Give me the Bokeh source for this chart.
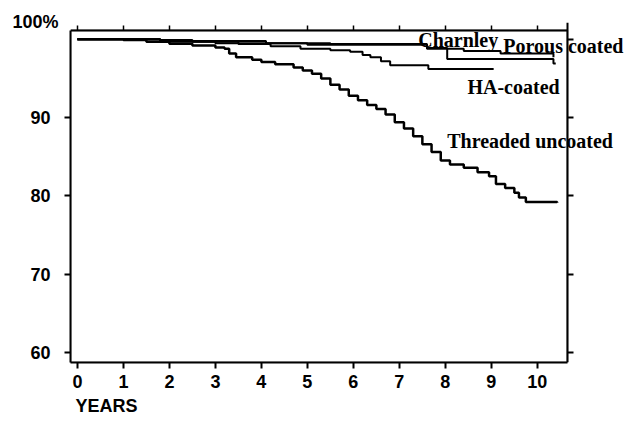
from bokeh.plotting import figure
from bokeh.models import Range1d, LinearAxis, FixedTicker, Label, Title, BoxAnnotation
from bokeh.embed import file_html
from bokeh.resources import INLINE

# ---- data (years, survival %) ----
threaded_t = [0, 1.0, 1.5, 2.0, 2.5, 3.0, 3.2, 3.3, 3.45, 3.8, 4.0, 4.3, 4.7, 4.9, 5.1, 5.3,
              5.5, 5.7, 5.9, 6.1, 6.3, 6.5, 6.7, 6.9, 7.1, 7.3, 7.5, 7.7, 7.9, 8.1, 8.4,
              8.7, 8.95, 9.1, 9.3, 9.5, 9.6, 9.75, 10.43]
threaded_s = [100, 99.9, 99.7, 99.45, 99.2, 98.95, 98.8, 98.2, 97.7, 97.4, 97.1, 96.8, 96.4,
              96.0, 95.6, 95.0, 94.2, 93.6, 92.8, 92.2, 91.6, 91.1, 90.4, 89.4, 88.6, 87.6,
              86.6, 85.6, 84.5, 84.0, 83.6, 83.0, 82.5, 81.5, 81.0, 80.4, 79.8, 79.2, 79.1]

ha_t = [0, 1.8, 2.5, 3.5, 4.2, 4.85, 5.5, 5.93, 6.2, 6.37, 6.6, 6.8, 7.63, 9.05]
ha_s = [100, 99.9, 99.7, 99.4, 99.1, 98.8, 98.6, 98.4, 98.0, 97.7, 97.2, 96.7, 96.2, 96.2]

charnley_t = [0, 1.8, 4.1, 5.5, 7.6, 8.4, 9.2, 10.35]
charnley_s = [100, 99.8, 99.5, 99.4, 98.8, 98.5, 98.2, 97.7]

porous_t = [0, 1.8, 3.0, 5.0, 7.6, 8.04, 10.35, 10.4]
porous_s = [100, 99.7, 99.5, 99.3, 98.9, 97.5, 96.9, 96.9]

x_ticks = [0, 1, 2, 3, 4, 5, 6, 7, 8, 9, 10]
y_ticks = [60, 70, 80, 90]
y_all_ticks = [60, 70, 80, 90, 100]
y_top_label = "100%"
x_title = "YEARS"

series_labels = ["Charnley", "Porous coated", "HA-coated", "Threaded uncoated"]
label_pos_x = [7.41, 9.26, 8.48, 8.04]
label_pos_y = [99.9, 99.2, 93.85, 87.05]

X0, X1 = -0.15, 10.65      # visible box in data units
Y0, Y1 = 58.7, 101.15

# the frame reaches a little above and well to the right of the visible box,
# so that the outer ticks and the long curve labels are not clipped
p = figure(frame_width=557, frame_height=340, output_backend="svg", toolbar_location=None,
           x_range=Range1d(X0, 11.96), y_range=Range1d(Y0, Y1 + 1.0), title_location=None,
           min_border_left=70, min_border_top=22, min_border_right=2, min_border_bottom=58)
p.outline_line_color = None
p.grid.visible = False

for t, s, w in [(threaded_t, threaded_s, 2.5), (ha_t, ha_s, 2),
                (charnley_t, charnley_s, 2), (porous_t, porous_s, 2)]:
    p.step(t, s, mode="after", line_color="black", line_width=w)

font = "Liberation Sans"
p.xaxis.ticker = FixedTicker(ticks=x_ticks)
p.xaxis.bounds = (X0, X1)
p.yaxis.ticker = FixedTicker(ticks=y_ticks)
p.yaxis.bounds = (Y0, Y1)
for ax in [p.xaxis[0], p.yaxis[0]]:
    ax.axis_line_color = "black"
    ax.axis_line_width = 2
    ax.major_tick_line_color = "black"
    ax.major_tick_line_width = 2
    ax.major_tick_out = 6
    ax.major_tick_in = 0
    ax.minor_tick_line_color = None
    ax.major_label_text_font = font
    ax.major_label_text_font_size = "18px"
    ax.major_label_text_font_style = "bold"
    ax.major_label_text_color = "black"
p.xaxis.major_label_standoff = 6
p.yaxis.major_label_standoff = 14

# box edges (top and right) of the visible plot area
p.add_layout(BoxAnnotation(left=X0, right=X1, bottom=Y0, top=Y1, fill_color=None,
                           line_color="black", line_width=2))

# right border ticks, pointing outward
right = LinearAxis(ticker=FixedTicker(ticks=y_all_ticks), fixed_location=X1,
                   axis_line_color="black", axis_line_width=2,
                   major_tick_line_color="black", major_tick_line_width=2,
                   major_tick_out=0, major_tick_in=6,
                   major_label_text_color=None, major_label_standoff=0,
                   minor_tick_line_color=None)
p.add_layout(right, "left")
# top border ticks, pointing outward
top = LinearAxis(ticker=FixedTicker(ticks=x_ticks), fixed_location=Y1, bounds=(X0, X1),
                 axis_line_color="black", axis_line_width=2,
                 major_tick_line_color="black", major_tick_line_width=1.5,
                 major_tick_out=5, major_tick_in=0, major_label_text_color=None,
                 minor_tick_line_color=None)
p.add_layout(top, "above")

for txt, lx, ly in zip(series_labels, label_pos_x, label_pos_y):
    p.add_layout(Label(x=lx, y=ly, text=txt, text_font="Liberation Serif",
                       text_font_size="20px", text_font_style="bold",
                       text_baseline="middle", text_color="black"))

p.add_layout(Title(text=y_top_label, align="left", offset=-58, standoff=-18,
                   text_font=font, text_font_size="18px", text_font_style="bold",
                   text_color="black"), "above")
p.add_layout(Title(text=x_title, align="left", offset=5, standoff=6,
                   text_font=font, text_font_size="18px", text_font_style="bold",
                   text_color="black"), "below")

open("out.html", "w").write(file_html(p, INLINE))
